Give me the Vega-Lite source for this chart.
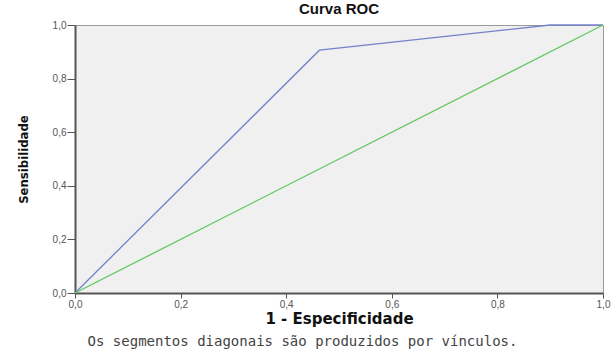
{
  "$schema": "https://vega.github.io/schema/vega-lite/v6.json",
  "width": 528,
  "height": 268,
  "autosize": {"type": "none"},
  "padding": {"left": 75, "top": 25, "right": 9, "bottom": 56},
  "background": "white",
  "title": {"text": "Curva ROC", "font": "Liberation Sans", "fontSize": 15, "fontWeight": "bold", "color": "#111", "offset": 3, "anchor": "middle"},
  "data": {"values": [
    {"fpr": 0, "tpr": 0, "serie": "ROC", "ord": 0},
    {"fpr": 0.463, "tpr": 0.906, "serie": "ROC", "ord": 1},
    {"fpr": 0.9, "tpr": 1.0, "serie": "ROC", "ord": 2},
    {"fpr": 1.0, "tpr": 1.0, "serie": "ROC", "ord": 3},
    {"fpr": 0, "tpr": 0, "serie": "Referência", "ord": 0},
    {"fpr": 1, "tpr": 1, "serie": "Referência", "ord": 1}
  ]},
  "layer": [
    {
      "mark": {"type": "line", "strokeWidth": 1.3},
      "encoding": {
        "x": {"field": "fpr", "type": "quantitative", "scale": {"domain": [0, 1], "nice": false},
          "axis": {"values": [0, 0.2, 0.4, 0.6, 0.8, 1.0], "labelExpr": "replace(format(datum.value, '.1f'), '.', ',')",
            "title": "1 - Especificidade", "titleFont": "DejaVu Sans", "titleFontSize": 15, "titleFontWeight": "bold", "titleColor": "#111", "titlePadding": 2,
            "labelFont": "Liberation Sans", "labelFontSize": 10, "labelColor": "#555", "labelPadding": 1, "labelFlush": false,
            "grid": false, "domainColor": "#555", "domainWidth": 2, "tickColor": "#555", "tickSize": 5, "tickWidth": 1}},
        "y": {"field": "tpr", "type": "quantitative", "scale": {"domain": [0, 1], "nice": false},
          "axis": {"values": [0, 0.2, 0.4, 0.6, 0.8, 1.0], "labelExpr": "replace(format(datum.value, '.1f'), '.', ',')",
            "title": "Sensibilidade", "titleFont": "DejaVu Sans Condensed", "titleFontSize": 13, "titleFontWeight": "bold", "titleColor": "#111", "titlePadding": 22,
            "labelFont": "Liberation Sans", "labelFontSize": 10, "labelColor": "#555", "labelPadding": 1,
            "grid": false, "domainColor": "#555", "domainWidth": 2, "tickColor": "#555", "tickSize": 8, "tickWidth": 1}},
        "order": {"field": "ord"},
        "color": {"field": "serie", "type": "nominal", "scale": {"domain": ["ROC", "Referência"], "range": ["#7382c9", "#62c862"]}, "legend": null}
      }
    },
    {
      "mark": {"type": "point", "opacity": 0},
      "data": {"values": [{"a": 0, "b": 0}]},
      "encoding": {
        "x": {"field": "a", "type": "quantitative", "scale": {"domain": [0, 1]},
          "axis": {"orient": "bottom", "title": "Os segmentos diagonais são produzidos por vínculos.", "titleFont": "DejaVu Sans Mono", "titleFontSize": 14, "titleFontWeight": "normal", "titleColor": "#444", "titleX": 227,
            "labels": false, "ticks": false, "domain": false, "grid": false, "offset": 37}}
      }
    }
  ],
  "resolve": {"scale": {"x": "independent"}, "axis": {"x": "independent"}},
  "config": {"view": {"fill": "#f0f0f0", "stroke": "#999", "strokeWidth": 1}}
}
